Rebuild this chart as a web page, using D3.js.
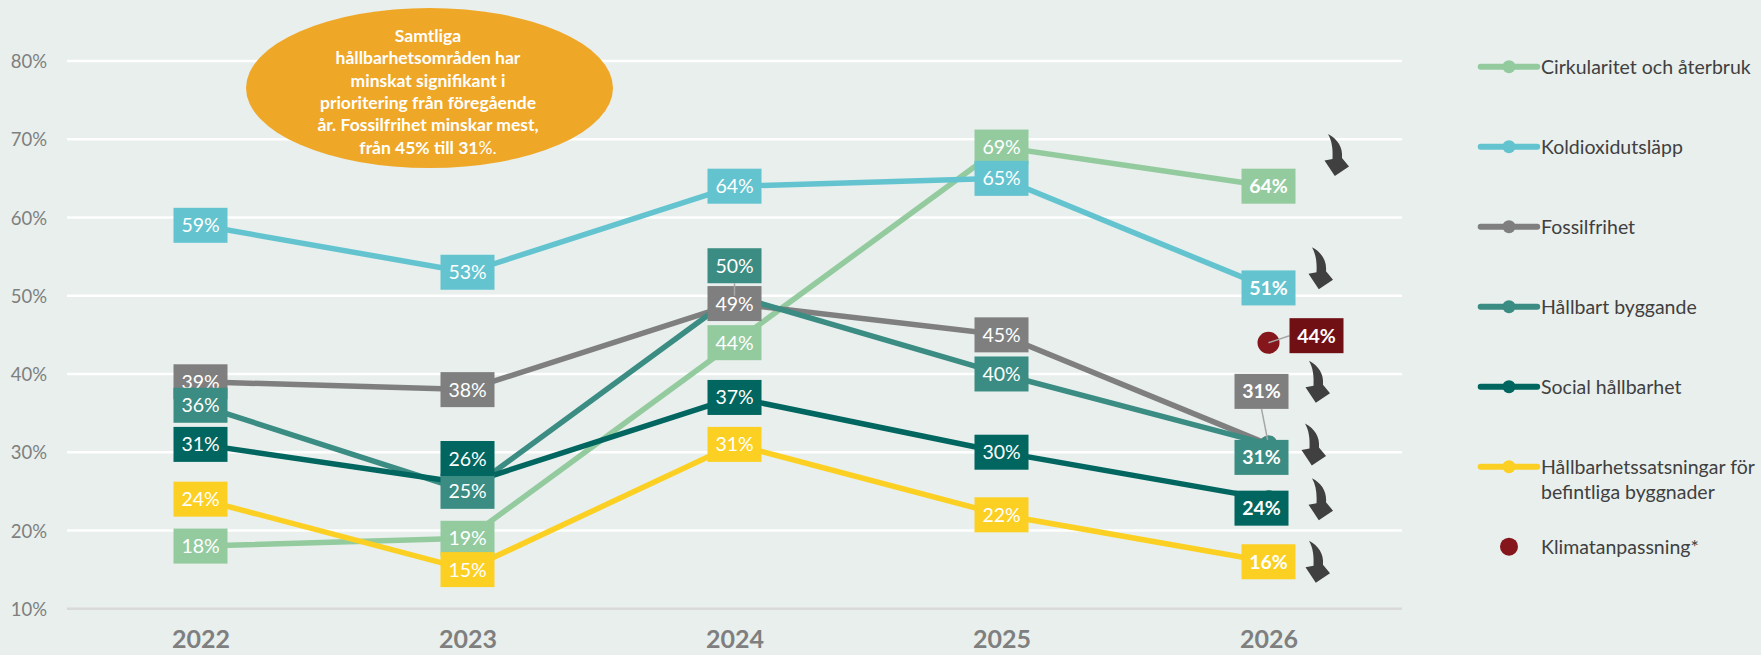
<!DOCTYPE html>
<html lang="sv">
<head>
<meta charset="utf-8">
<script src="https://cdn.jsdelivr.net/npm/d3@7"></script>
<style>
  body { margin: 0; background: #e8efed; }
  svg text { font-family: Lato, "Open Sans", sans-serif; }
</style>
</head>
<body>
<svg id="chart" width="1761" height="655"></svg>
<script>
var years = ["2022", "2023", "2024", "2025", "2026"]
var yTicks = [10, 20, 30, 40, 50, 60, 70, 80]

var names = ["Cirkularitet och återbruk", "Koldioxidutsläpp", "Fossilfrihet", "Hållbart byggande",
             "Social hållbarhet", "Hållbarhetssatsningar för befintliga byggnader"]
var colors = ["#93cb9f", "#63c4d0", "#7f7f7f", "#3b8c82", "#00665f", "#fcd022"]

var cirkularitet = [18, 19, 44, 69, 64]
var koldioxid    = [59, 53, 64, 65, 51]
var fossil       = [39, 38, 49, 45, 31]
var byggande     = [36, 25, 50, 40, 31]
var social       = [31, 26, 37, 30, 24]
var befintliga   = [24, 15, 31, 22, 16]
var values = [cirkularitet, koldioxid, fossil, byggande, social, befintliga]

var klimatName = "Klimatanpassning*"
var klimatYear = "2026"
var klimatValue = 44

var note = ["Samtliga", "hållbarhetsområden har", "minskat signifikant i",
            "prioritering från föregående", "år. Fossilfrihet minskar mest,", "från 45% till 31"]

// where a label box was moved away from its point: [dx, dy, leader line]
var nudge = {
  "4,2023": [0, -25, false],
  "3,2024": [0, -30, true],
  "2,2026": [-7, -53, true],
  "3,2026": [-7, 13, false],
  "4,2026": [-7, 9, false]
}
// the down arrows next to the last year
var arrowAt = [68, 53.5, 39, 31, 24, 16]
var arrowDx = [67, 51, 48, 44, 51, 48]

var svg = d3.select("#chart")

var x = d3.scalePoint().domain(years).range([67, 1402]).padding(0.5)
var y = d3.scaleLinear().domain([10, 80]).range([608.7, 61])

// grid
var grid = svg.append("g")
grid.selectAll("line").data(yTicks).enter().append("line")
    .attr("x1", 67).attr("x2", 1402)
    .attr("y1", d => y(d)).attr("y2", d => y(d))
    .attr("stroke", d => d == 10 ? "#d9d9d9" : "#ffffff")
    .attr("stroke-width", 2.5)

var yAxis = d3.axisLeft(y).tickValues(yTicks).tickFormat(d => d + "%").tickSize(0).tickPadding(0)
var ya = svg.append("g").attr("transform", "translate(47,0)").call(yAxis)
ya.select(".domain").remove()
ya.selectAll("text").attr("font-family", "Lato, sans-serif").attr("font-size", 18.5)
    .attr("fill", "#7f7f7f").attr("dy", "0.36em")

var xAxis = d3.axisBottom(x).tickSize(0).tickPadding(0)
var xa = svg.append("g").attr("transform", "translate(0,648)").call(xAxis)
xa.select(".domain").remove()
xa.selectAll("text").attr("font-family", "Lato, sans-serif").attr("font-size", 25)
    .attr("font-weight", "bold").attr("fill", "#7f7f7f").attr("dy", 0)

// note bubble
var bubble = svg.append("g")
bubble.append("ellipse").attr("cx", 429.5).attr("cy", 88).attr("rx", 183.5).attr("ry", 80).attr("fill", "#efa727")
var nt = bubble.append("text").attr("text-anchor", "middle").attr("fill", "#ffffff")
    .attr("font-size", 17.5).attr("font-weight", "bold")
note.forEach((s, i) => {
  nt.append("tspan").attr("x", 428).attr("y", 41.7 + i * 22.4).text(s)
  if (i == note.length - 1) nt.append("tspan").attr("font-weight", "normal").text("%.")
})

// lines
var line = d3.line().x((d, i) => x(years[i])).y(d => y(d))
values.forEach((v, s) => {
  svg.append("path").datum(v).attr("d", line).attr("fill", "none")
      .attr("stroke", colors[s]).attr("stroke-width", 5.5).attr("stroke-linejoin", "round")
})
values.forEach((v, s) => {
  svg.append("g").selectAll("circle").data(v).enter().append("circle")
      .attr("cx", (d, i) => x(years[i])).attr("cy", d => y(d)).attr("r", 9).attr("fill", colors[s])
})

// label boxes
var bw = 54, bh = 35
values.forEach((v, s) => {
  v.forEach((d, i) => {
    var n = nudge[s + "," + years[i]] || [0, 0, false]
    var cx = x(years[i]) + n[0], cy = y(d) + n[1]
    var g = svg.append("g")
    g.append("rect").attr("x", cx - bw / 2).attr("y", cy - bh / 2).attr("width", bw).attr("height", bh)
        .attr("fill", colors[s])
    g.append("text").attr("x", cx).attr("y", cy).attr("dy", "0.36em").attr("text-anchor", "middle")
        .attr("fill", "#ffffff").attr("font-size", 19.5)
        .attr("font-weight", i == years.length - 1 ? "bold" : "normal").text(d + "%")
    if (n[2]) {
      var ly = n[1] < 0 ? cy + bh / 2 : cy - bh / 2
      g.append("line").attr("x1", cx).attr("y1", ly).attr("x2", x(years[i])).attr("y2", y(d))
          .attr("stroke", "#a6a6a6").attr("stroke-width", 1.5)
    }
  })
})

// klimatanpassning, only one year
var kx = x(klimatYear), ky = y(klimatValue)
svg.append("circle").attr("cx", kx).attr("cy", ky).attr("r", 11).attr("fill", "#85161b")
svg.append("line").attr("x1", kx).attr("y1", ky).attr("x2", kx + 48 - bw / 2).attr("y2", ky - 7)
    .attr("stroke", "#a6a6a6").attr("stroke-width", 1.5)
svg.append("rect").attr("x", kx + 48 - bw / 2).attr("y", ky - 7 - bh / 2).attr("width", bw).attr("height", bh)
    .attr("fill", "#701015")
svg.append("text").attr("x", kx + 48).attr("y", ky - 7).attr("dy", "0.36em").attr("text-anchor", "middle")
    .attr("fill", "#ffffff").attr("font-size", 19.5).attr("font-weight", "bold").text(klimatValue + "%")

// arrows
var arrowPath = "M-7.5,-21 C2,-16 7.5,-8 6.5,3 L13.5,11.5 L-0.7,21 L-11,5.5 L-3,4 C-2.5,-6 -3.5,-14 -7.5,-21 Z"
svg.append("g").selectAll("path").data(arrowAt).enter().append("path")
    .attr("d", arrowPath).attr("fill", "#404040")
    .attr("transform", (d, i) => "translate(" + (x("2026") + arrowDx[i]) + "," + y(d) + ")")

// legend
var lg = svg.append("g").attr("transform", "translate(1480.7,66.7)")
var items = names.concat([klimatName])
var li = lg.selectAll("g").data(items).enter().append("g").attr("transform", (d, i) => "translate(0," + i * 80 + ")")
li.filter((d, i) => i < names.length).append("line").attr("x1", 0).attr("x2", 56.5)
    .attr("stroke", (d, i) => colors[i]).attr("stroke-width", 6).attr("stroke-linecap", "round")
li.append("circle").attr("cx", 28.3).attr("r", (d, i) => i < names.length ? 6.5 : 9)
    .attr("fill", (d, i) => i < names.length ? colors[i] : "#85161b")
li.append("text").attr("x", 60.3).attr("fill", "#404040").attr("font-size", 19.5)
    .each(function (d) {
      var parts = d == names[5] ? ["Hållbarhetssatsningar för", "befintliga byggnader"] : [d]
      var t = d3.select(this)
      parts.forEach((p, k) => t.append("tspan").attr("x", 60.3).attr("y", k * 25.5).attr("dy", "0.36em").text(p))
    })
</script>
</body>
</html>
